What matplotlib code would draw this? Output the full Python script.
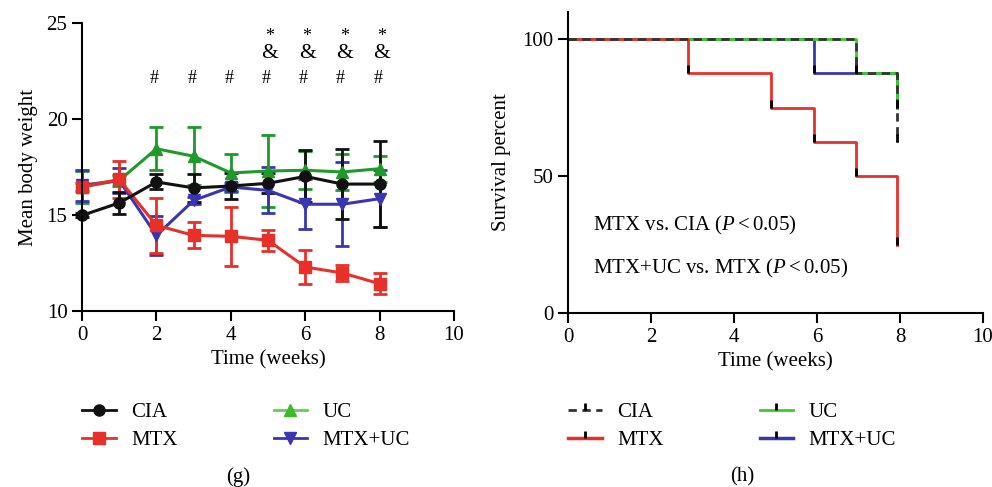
import matplotlib
matplotlib.use('Agg')
import matplotlib.pyplot as plt
from matplotlib.lines import Line2D

plt.rcParams['font.family'] = ['Liberation Serif', 'DejaVu Serif']
plt.rcParams['mathtext.fontset'] = 'custom'
plt.rcParams['mathtext.rm'] = 'Liberation Serif'
plt.rcParams['mathtext.it'] = 'Liberation Serif:italic'
plt.rcParams['font.size'] = 15

# ---- panel (g): body weight ----
weeks = [0, 1, 2, 3, 4, 5, 6, 7, 8]
cia_w = [14.98, 15.63, 16.72, 16.41, 16.51, 16.65, 17.01, 16.61, 16.61]
cia_e = [0.1, 0.58, 0.39, 0.71, 0.69, 0.52, 1.35, 1.82, 2.24]
uc_w = [16.46, 16.8, 18.45, 18.06, 17.19, 17.29, 17.33, 17.24, 17.41]
uc_e = [0.85, 0.3, 1.13, 1.5, 0.97, 1.87, 1.0, 0.93, 0.68]
mtx_w = [16.46, 16.85, 14.46, 13.94, 13.89, 13.68, 12.29, 11.98, 11.42]
mtx_e = [0.2, 0.95, 1.45, 0.67, 1.55, 0.56, 0.9, 0.44, 0.56]
muc_w = [16.55, 16.8, 13.94, 15.76, 16.46, 16.28, 15.56, 15.56, 15.85]
muc_e = [0.8, 0.65, 1.0, 0.2, 0.2, 1.2, 1.3, 2.2, 1.5]

hash_weeks = [2, 3, 4, 5, 6, 7, 8]
amp_weeks = [5, 6, 7, 8]
star_weeks = [5, 6, 7, 8]

# ---- panel (h): survival ----
mtx_t = [0, 2.9, 4.9, 5.93, 6.93, 7.94]
mtx_s = [100, 87.5, 75, 62.5, 50, 25]
muc_t = [0, 5.93, 7.94]
muc_s = [100, 87.5, 75]
uc_t = [0, 6.93, 7.94]
uc_s = [100, 87.5, 75]
cia_t = [0, 6.93, 7.94]
cia_s = [100, 87.5, 62.5]

c_black = '#111111'
c_red = '#e8302a'
c_green = '#1f9a2a'
c_green2 = '#3ccc2a'
c_blue = '#3a36b0'

fig = plt.figure(figsize=(9.92, 4.87), dpi=100)
ax1 = fig.add_axes([0.0827, 0.3614, 0.375, 0.5914])
ax2 = fig.add_axes([0.5726, 0.3567, 0.4183, 0.6193])

series = [
    (uc_w, uc_e, c_green, '^', 'UC'),
    (muc_w, muc_e, c_blue, 'v', 'MTX+UC'),
    (mtx_w, mtx_e, c_red, 's', 'MTX'),
    (cia_w, cia_e, c_black, 'o', 'CIA'),
]
for vals, errs, col, mk, lab in series:
    ax1.errorbar(weeks, vals, yerr=errs, color=col, marker=mk, markersize=8,
                 lw=2.2, capsize=5, capthick=2, elinewidth=2, clip_on=False)

for w in hash_weeks:
    ax1.text(w - 0.05, 22.1, '#', ha='center', va='center', fontsize=13)
for w in amp_weeks:
    ax1.text(w + 0.05, 23.4, '&', ha='center', va='center', fontsize=15.5)
for w in star_weeks:
    ax1.text(w + 0.05, 24.3, '*', ha='center', va='center', fontsize=13)

ax1.set_xlim(0, 10)
ax1.set_ylim(10, 25)
ax1.set_xticks([0, 2, 4, 6, 8, 10])
ax1.set_yticks([10, 15, 20, 25])
ax1.set_xlabel('Time (weeks)')
ax1.set_ylabel('Mean body weight', labelpad=6)

# survival curves
ax2.step(muc_t, muc_s, where='post', color=c_blue, lw=2)
ax2.step(uc_t, uc_s, where='post', color=c_green2, lw=2)
ax2.step(mtx_t, mtx_s, where='post', color=c_red, lw=2)
ax2.step(cia_t, cia_s, where='post', color='#333333', lw=2, linestyle=(0, (3, 2)))
for t, s in [(mtx_t, mtx_s), (muc_t, muc_s), (uc_t, uc_s), (cia_t, cia_s)]:
    ax2.plot(t[1:], s[1:], linestyle='none', marker=2, markersize=6,
             markeredgewidth=2, color='black')

ax2.text(0.6, 32, r'MTX vs. CIA ($P<0.05$)', va='center')
ax2.text(0.6, 16.4, r'MTX+UC vs. MTX ($P<0.05$)', va='center')
ax2.set_xlim(0, 10)
ax2.set_ylim(0, 110)
ax2.set_xticks([0, 2, 4, 6, 8, 10])
ax2.set_yticks([0, 50, 100])
ax2.set_xlabel('Time (weeks)')
ax2.set_ylabel('Survival percent', labelpad=8)

for ax in (ax1, ax2):
    ax.spines['top'].set_visible(False)
    ax.spines['right'].set_visible(False)
    ax.spines['left'].set_linewidth(1.5)
    ax.spines['bottom'].set_linewidth(1.5)
    ax.tick_params(width=1.5, length=7)

h1 = [
    Line2D([], [], color=c_black, marker='o', markersize=8, lw=2),
    Line2D([], [], color=c_red, marker='s', markersize=8, lw=2),
    Line2D([], [], color='#6acb55', marker='^', markersize=8, lw=2, markerfacecolor='#3cb82a', markeredgecolor='#3cb82a'),
    Line2D([], [], color=c_blue, marker='v', markersize=8, lw=2),
]
l1 = ['CIA', 'MTX', 'UC', 'MTX+UC']
fig.legend(h1, l1, ncol=2, loc='upper left', bbox_to_anchor=(0.083, 0.173),
           frameon=False, handlelength=1.6, handletextpad=0.75,
           columnspacing=4.6, labelspacing=0.4, borderpad=0, borderaxespad=0)

tk = dict(marker=2, markersize=5, markeredgewidth=2, markeredgecolor='black')
h2 = [
    Line2D([], [], color='#333333', lw=2, linestyle=(0, (3, 2)), **tk),
    Line2D([], [], color=c_red, lw=2.5, **tk),
    Line2D([], [], color=c_green2, lw=2, **tk),
    Line2D([], [], color=c_blue, lw=2.5, **tk),
]
fig.legend(h2, l1, ncol=2, loc='upper left', bbox_to_anchor=(0.573, 0.173),
           frameon=False, handlelength=1.6, handletextpad=0.75,
           columnspacing=4.6, labelspacing=0.4, borderpad=0, borderaxespad=0)

fig.text(238 / 992, 1 - 477 / 487, '(g)', ha='center', va='center')
fig.text(742 / 992, 1 - 477 / 487, '(h)', ha='center', va='center')

fig.savefig('out.png', dpi=100)
